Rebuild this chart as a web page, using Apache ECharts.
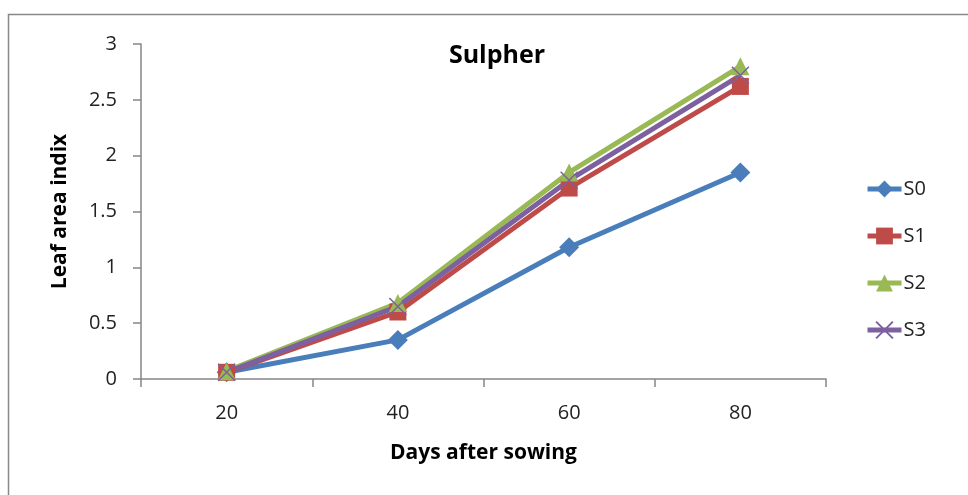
<!DOCTYPE html>
<html><head><meta charset="utf-8">
<script src="https://cdn.jsdelivr.net/npm/echarts@6/dist/echarts.min.js"></script>
<style>html,body{margin:0;padding:0;background:#fff}#c{width:968px;height:495px}</style>
</head><body><div id="c"></div>
<script>
const categories = ['20','40','60','80'];
const seriesNames = ['S0','S1','S2','S3'];
const s0 = [0.06, 0.35, 1.18, 1.85];
const s1 = [0.06, 0.60, 1.71, 2.62];
const s2 = [0.07, 0.68, 1.85, 2.80];
const s3 = [0.06, 0.65, 1.78, 2.72];
const colors = ['#4a7ebb','#be4b48','#98b954','#7d60a0'];
const font = '"Open Sans", "Liberation Sans", sans-serif';
const chart = echarts.init(document.getElementById('c'));
const xSym = 'path://M0,0L10,10M10,0L0,10';
function mk(name, data, color, symbol, size, extra) {
  return Object.assign({
    name, type: 'line', data, symbol, symbolSize: size,
    lineStyle: {color, width: 5},
    itemStyle: {color},
    z: 2
  }, extra || {});
}
chart.setOption({
  animation: false,
  title: {text: 'Sulpher', left: 492, top: 38, textAlign: 'center',
    textStyle: {fontFamily: font, fontSize: 25, fontWeight: 'bold', color: '#000'}},
  graphic: [{type: 'rect', shape: {x: 8.5, y: 14.5, width: 1000, height: 1000},
    style: {fill: 'none', stroke: '#888', lineWidth: 1.5}, silent: true}],
  legend: {orient: 'vertical', left: 860, top: 174, itemGap: 27, itemWidth: 34, itemHeight: 21,
    lineStyle: {width: 5},
    textStyle: {fontFamily: font, fontSize: 20, color: '#222', padding: [0,0,0,-3]},
    data: seriesNames},
  grid: {left: 141, right: 142, top: 44, bottom: 116},
  xAxis: {type: 'category', data: categories, boundaryGap: true,
    name: 'Days after sowing', nameLocation: 'middle', nameGap: 64,
    nameTextStyle: {fontFamily: font, fontSize: 21, fontWeight: 'bold', color: '#000'},
    axisLine: {lineStyle: {color: '#868686', width: 1.5}},
    axisTick: {show: true, length: 8, lineStyle: {color: '#868686', width: 1.5}},
    axisLabel: {fontFamily: font, fontSize: 20, color: '#222', margin: 24}},
  yAxis: {type: 'value', min: 0, max: 3, interval: 0.5,
    name: 'Leaf area indix', nameLocation: 'middle', nameGap: 70, nameRotate: 90,
    nameTextStyle: {fontFamily: font, fontSize: 21, fontWeight: 'bold', color: '#000'},
    splitLine: {show: false},
    axisLine: {show: true, lineStyle: {color: '#868686', width: 1.5}},
    axisTick: {show: true, length: 8, lineStyle: {color: '#868686', width: 1.5}},
    axisLabel: {fontFamily: font, fontSize: 20, color: '#222', margin: 24}},
  series: [
    mk(seriesNames[0], s0, colors[0], 'diamond', 20),
    mk(seriesNames[1], s1, colors[1], 'rect', 17),
    mk(seriesNames[2], s2, colors[2], 'triangle', 18),
    mk(seriesNames[3], s3, colors[3], xSym, 17, {itemStyle: {color: colors[3], borderColor: colors[3], borderWidth: 1.5}})
  ]
});
</script></body></html>
